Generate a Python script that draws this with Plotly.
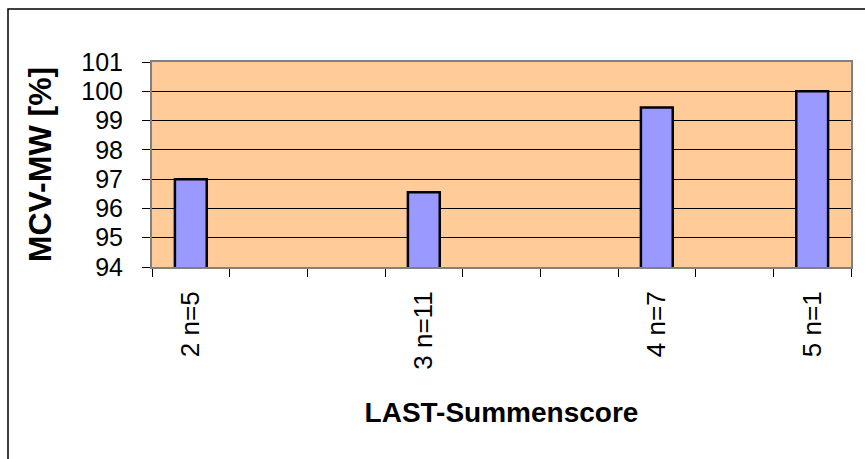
import plotly.graph_objects as go

# LAST total score groups (with group size) and mean MCV values in percent
categories = ["2 n=5", "3 n=11", "4 n=7", "5 n=1"]
slots = [1, 4, 7, 9]          # slot of each group on the 9-slot category axis
mcv_mean = [97.0, 96.55, 99.45, 100.0]
y_ticks = [94, 95, 96, 97, 98, 99, 100, 101]
n_slots = 9

FONT = "Liberation Sans, Arial, sans-serif"

fig = go.Figure(
    go.Bar(
        x=slots,
        y=mcv_mean,
        width=0.41,
        marker=dict(color="#9999FF", line=dict(color="black", width=2.5)),
        hovertext=categories,
    )
)

fig.update_layout(
    width=865,
    height=459,
    margin=dict(l=152, r=14, t=62, b=192),
    paper_bgcolor="white",
    plot_bgcolor="#FFCC99",
    showlegend=False,
    font=dict(family=FONT, color="black"),
    shapes=[
        # chart frame (runs off the right and bottom edges)
        dict(
            type="rect", xref="paper", yref="paper",
            x0=-144 / 699, x1=1.2, y0=-1.2, y1=1 + 53 / 205,
            line=dict(color="black", width=1.5), fillcolor="rgba(0,0,0,0)",
            layer="below",
        )
    ],
)

fig.update_xaxes(
    range=[0.5, n_slots + 0.5],
    tickmode="array",
    tickvals=slots,
    ticktext=categories,
    tickangle=-90,
    ticks="",
    ticklabelstandoff=12,
    tickfont=dict(size=26, family=FONT),
    showgrid=False,
    zeroline=False,
    showline=True,
    linecolor="#808080",
    linewidth=2,
    mirror=True,
    minor=dict(
        tickvals=[i + 0.5 for i in range(n_slots + 1)],
        ticks="outside",
        ticklen=8,
        tickwidth=1.2,
        tickcolor="black",
        showgrid=False,
    ),
    title=dict(
        text="<b>LAST-Summenscore</b>",
        font=dict(size=28, family=FONT),
        standoff=34,
    ),
)

fig.update_yaxes(
    range=[94, 101],
    tickmode="array",
    tickvals=y_ticks,
    ticks="outside",
    ticklen=8,
    tickwidth=1.2,
    tickcolor="black",
    ticklabelstandoff=14,
    tickfont=dict(size=25, family=FONT),
    showgrid=True,
    gridcolor="black",
    gridwidth=1,
    zeroline=False,
    showline=True,
    linecolor="#808080",
    linewidth=2,
    mirror=True,
    title=dict(
        text="<b>MCV-MW [%]</b>",
        font=dict(size=32, family=FONT),
        standoff=20,
    ),
)

fig.write_html("out.html")
